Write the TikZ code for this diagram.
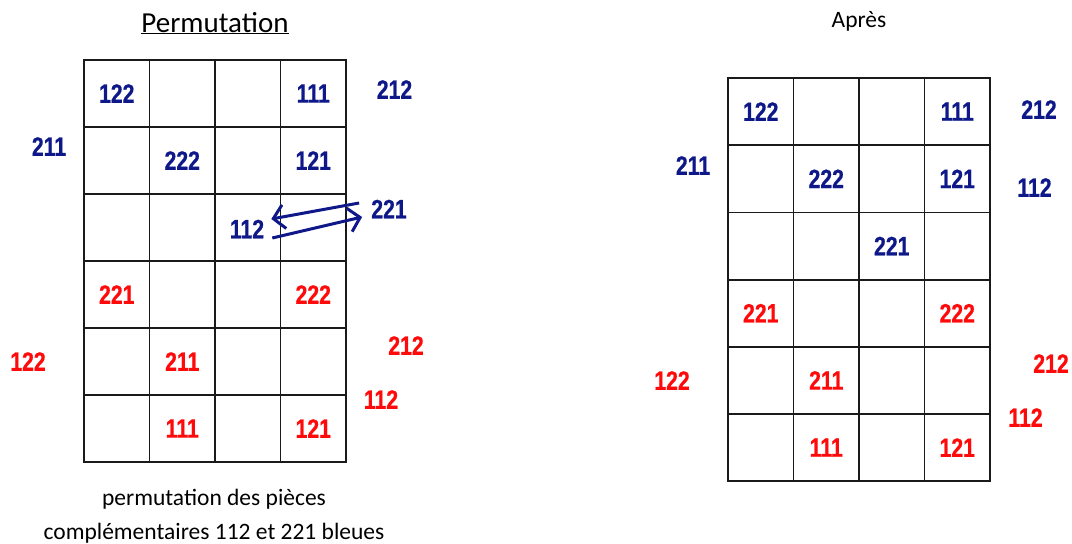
\documentclass[tikz,border=0pt]{standalone}
\usepackage{fontspec}
\setmainfont{Carlito}
\newfontfamily\numfont[FakeStretch=0.8,BoldFont={Liberation Sans Bold},
  BoldFeatures={FakeBold=0.6}]{Liberation Sans}
\usepackage{tikz}
\usepackage{xcolor}
\usetikzlibrary{arrows.meta,positioning,calc}
\definecolor{ink}{HTML}{1A1A1A}
\definecolor{piecebleu}{HTML}{0F1889}
\definecolor{piecerouge}{HTML}{FF0A0A}
\tikzset{
  gridline/.style={draw=ink,line width=1.8pt,line cap=rect},
  num/.style={font=\numfont\bfseries\fontsize{26.5}{27}\selectfont,inner sep=0pt},
  bleu/.style={num,text=piecebleu},
  rouge/.style={num,text=piecerouge},
  titre/.style={font=\fontsize{29}{32}\selectfont,anchor=base},
  legende/.style={font=\fontsize{23.5}{34}\selectfont,align=center,anchor=base},
  swaparr/.style={-{Straight Barb[length=11pt,width=24pt,line width=3pt]},
                  draw=piecebleu,line width=3pt}
}

\begin{document}
\begin{tikzpicture}[x=1pt,y=-1pt]
  \useasboundingbox (0,0) rectangle (1072,544);
  % left board
  \foreach \i in {0,...,4}
    \draw[gridline] (84+65.5*\i,60) -- (84+65.5*\i,462);
  \foreach \j in {0,...,6}
    \draw[gridline] (84,60+67*\j) -- (346,60+67*\j);
  \node[titre] (titreA) at (215,32) {\underline{Permutation}};
  \foreach \c/\r/\lab/\sty in {0/0/122/bleu,3/0/111/bleu,1/1/222/bleu,3/1/121/bleu,
      0/3/221/rouge,3/3/222/rouge,1/4/211/rouge,1/5/111/rouge,3/5/121/rouge}
    \node[\sty] (a\c\r) at (84+65.5*\c+32.75,60+67*\r+33.5) {\lab};
  \node[bleu] (a22) at (247,229) {112};
  \node[bleu] (aE212) at (394.5,89.5) {212};
  \node[bleu] (aW211) at (49,146.5) {211};
  \node[bleu] (aE221) at (389,209) {221};
  \node[rouge] (aW122) at (28,361.5) {122};
  \node[rouge] (aE212r) at (406,345.5) {212};
  \node[rouge] (aE112r) at (381,399.5) {112};
  \draw[swaparr] ($(aE221.west)+(-12,-6)$) -- ($(a22.east)+(7,-10)$);
  \draw[swaparr] ($(a22.east)+(8,9)$) -- ($(aE221.west)+(-9,8)$);
  \node[legende] (legA) at (214,539) {permutation des pièces\\complémentaires 112 et 221 bleues};
  % right board
  \foreach \i in {0,...,4}
    \draw[gridline] (728+65.5*\i,78) -- (728+65.5*\i,481);
  \foreach \j in {0,...,6}
    \draw[gridline] (728,78+67.2*\j) -- (990,78+67.2*\j);
  \node[legende] (titreB) at (859,27) {Après};
  \foreach \c/\r/\lab/\sty in {0/0/122/bleu,3/0/111/bleu,1/1/222/bleu,3/1/121/bleu,2/2/221/bleu,
      0/3/221/rouge,3/3/222/rouge,1/4/211/rouge,1/5/111/rouge,3/5/121/rouge}
    \node[\sty] (b\c\r) at (728+65.5*\c+32.75,78+67.2*\r+33.6) {\lab};
  \node[bleu] (bE212) at (1039,109.5) {212};
  \node[bleu] (bW211) at (693,165.5) {211};
  \node[bleu] (bE112) at (1034.5,187.5) {112};
  \node[rouge] (bW122) at (672,380.5) {122};
  \node[rouge] (bE212r) at (1051,363.5) {212};
  \node[rouge] (bE112r) at (1025.5,417.5) {112};
\end{tikzpicture}
\end{document}
